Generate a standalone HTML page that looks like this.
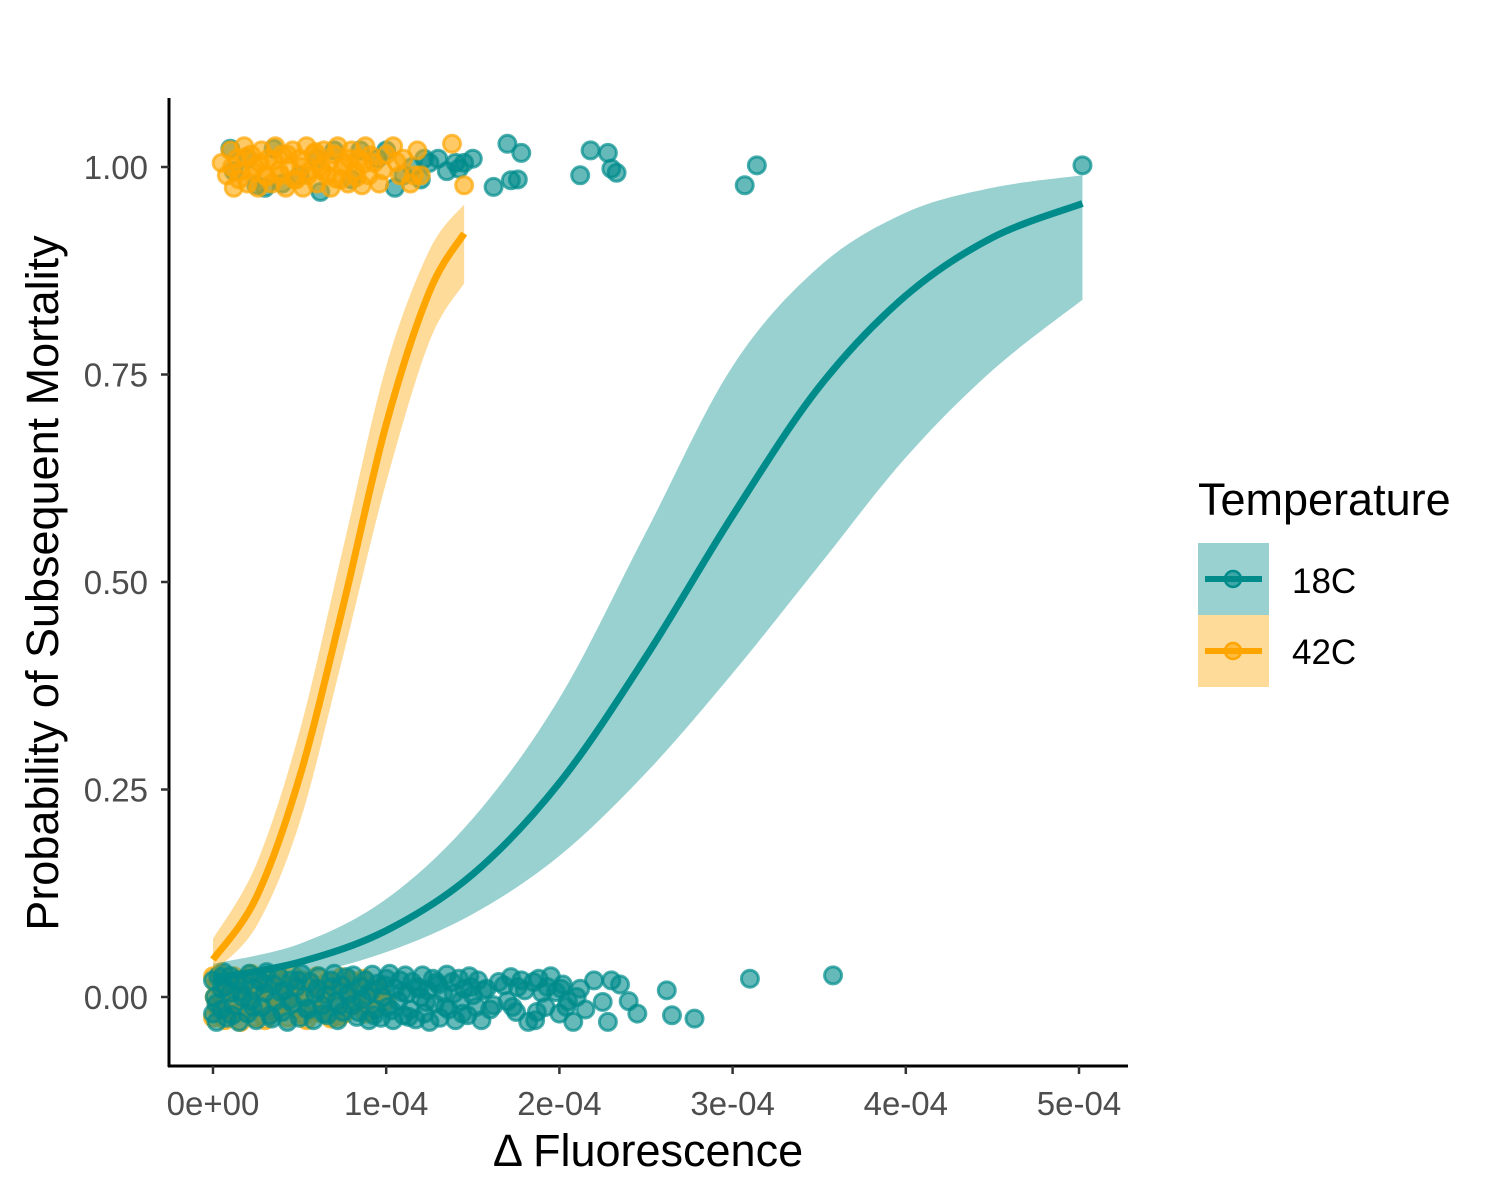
<!DOCTYPE html>
<html><head><meta charset="utf-8"><style>
html,body{margin:0;padding:0;background:#fff}
svg{display:block;font-family:"Liberation Sans",Arial,sans-serif}
</style></head><body>
<svg id="chart" width="1500" height="1200" viewBox="0 0 1500 1200">
<g id="pts-bottom"></g>
<g id="pts-top"></g>
<g id="bands"></g>
<g id="lines"></g>
<g id="axes"></g>
<text x="648" y="1166" font-size="45" text-anchor="middle" fill="#000">Δ Fluorescence</text>
<text transform="translate(58,583) rotate(-90)" font-size="45" text-anchor="middle" fill="#000">Probability of Subsequent Mortality</text>
<g>
<text x="1198" y="515" font-size="45" fill="#000">Temperature</text>
<g>
<rect x="1198" y="543" width="71" height="72" fill="#99d1d1"/>
<line x1="1205" y1="579" x2="1262" y2="579" stroke="#008b8b" stroke-width="6"/>
<circle cx="1233" cy="579" r="8" fill="rgba(0,139,139,0.6)" stroke="#008b8b" stroke-width="2.5"/>
<text x="1292" y="593" font-size="35" fill="#000">18C</text>
</g>
<g>
<rect x="1198" y="615" width="71" height="72" fill="#ffdb99"/>
<line x1="1205" y1="651" x2="1262" y2="651" stroke="#ffa500" stroke-width="6"/>
<circle cx="1233" cy="651" r="8" fill="rgba(255,165,0,0.6)" stroke="#ffa500" stroke-width="2.5"/>
<text x="1292" y="664" font-size="35" fill="#000">42C</text>
</g>
</g>
</svg>
<script>
// x values in units of 1e-4
const xTicks=[0,1,2,3,4,5];
const xTickLabels=["0e+00","1e-04","2e-04","3e-04","4e-04","5e-04"];
const yTicks=[0,0.25,0.5,0.75,1];
const yTickLabels=["0.00","0.25","0.50","0.75","1.00"];

const fitX18=[0,0.5,1,1.5,2,2.5,3,3.5,4,4.5,5.02];
const fit18=[0.022,0.042,0.08,0.148,0.258,0.41,0.58,0.735,0.845,0.915,0.956];
const lo18=[0.012,0.026,0.054,0.1,0.17,0.27,0.39,0.52,0.65,0.755,0.84];
const hi18=[0.04,0.064,0.118,0.215,0.36,0.56,0.76,0.88,0.945,0.975,0.99];

const fitX42=[0,0.25,0.5,0.75,1,1.25,1.45];
const fit42=[0.045,0.12,0.265,0.47,0.69,0.85,0.92];
const lo42=[0.03,0.085,0.21,0.41,0.62,0.79,0.86];
const hi42=[0.07,0.16,0.32,0.54,0.76,0.90,0.955];

// teal points near 0
const t0x=[0,0,0.01,0.02,0.03,0.05,0.05,0.06,0.08,0.1,0.1,0.12,0.14,0.15,0.17,0.18,0.2,0.21,0.22,0.24,0.25,0.27,0.28,0.3,0.31,0.33,0.35,0.36,0.38,0.4,0.41,0.43,0.45,0.46,0.48,0.5,0.51,0.53,0.55,0.56,0.58,0.6,0.61,0.63,0.65,0.66,0.68,0.7,0.71,0.72,0.74,0.75,0.77,0.78,0.8,0.81,0.83,0.85,0.86,0.88,0.9,0.91,0.92,0.94,0.95,0.97,0.98,1,1.01,1.02,1.04,1.05,1.07,1.08,1.1,1.11,1.12,1.14,1.15,1.17,1.18,1.2,1.21,1.22,1.24,1.25,1.27,1.28,1.3,1.31,1.33,1.35,1.36,1.38,1.4,1.42,1.43,1.45,1.47,1.48,1.5,1.52,1.53,1.55,1.58,1.6,1.65,1.7,1.72,1.75,1.76,1.78,1.82,1.85,1.86,1.88,1.9,1.92,1.95,2.0,2.01,2.02,2.05,2.08,2.1,2.15,2.2,2.25,2.28,2.3,2.35,2.4,2.45,2.62,2.65,2.78,3.1,3.58,
0.02,0.07,0.11,0.16,0.23,0.29,0.34,0.39,0.44,0.49,0.54,0.59,0.64,0.69,0.73,0.79,0.84,0.89,0.93,0.99,1.03,1.09,1.13,1.19,1.23,1.29,1.34,1.39,1.44,1.49,1.56,1.62,1.68,1.73,1.8,1.87,1.93,1.98,2.04,2.12];
const t0y=[0.02,-0.02,0.0,-0.03,0.025,0.01,-0.015,0.03,-0.025,0.005,0.025,-0.01,0.02,-0.03,0.0,0.015,-0.02,0.028,-0.005,0.01,-0.028,0.02,-0.012,0.005,0.03,-0.022,0.015,-0.005,0.025,-0.018,0.008,-0.03,0.02,-0.008,0.012,-0.025,0.028,0.0,-0.015,0.018,-0.028,0.01,0.025,-0.01,0.003,-0.022,0.02,0.028,-0.006,-0.028,0.014,-0.018,0.024,0.002,-0.01,0.026,-0.024,0.012,-0.003,0.02,-0.028,0.007,0.027,-0.015,0.016,-0.025,0.0,0.022,-0.012,0.028,-0.028,0.01,-0.005,0.02,-0.022,0.026,0.004,-0.015,0.018,-0.027,0.012,0.0,0.026,-0.02,0.008,-0.03,0.022,-0.008,0.015,-0.025,0.005,0.027,-0.015,0.018,-0.028,0.022,-0.005,0.01,-0.022,0.025,0.002,-0.012,0.02,-0.028,0.01,-0.015,0.018,-0.005,0.024,-0.018,0.012,0.02,-0.03,0.018,-0.028,0.022,0.005,-0.012,0.025,-0.02,0.01,0.015,-0.005,-0.03,0.0,-0.015,0.02,-0.006,-0.03,0.02,0.015,-0.005,-0.02,0.008,-0.022,-0.026,0.022,0.026,
-0.008,0.012,-0.022,0.006,-0.012,0.016,-0.026,0.006,-0.004,0.02,-0.014,0.004,-0.02,0.012,-0.01,0.006,-0.018,0.002,-0.022,0.014,-0.016,0.006,-0.024,0.01,-0.006,0.018,-0.012,0.004,-0.02,0.012,0.008,-0.01,0.014,-0.012,0.008,-0.018,0.012,0.006,-0.012,0.01];
// orange points near 0
const o0x=[0,0,0.01,0.02,0.03,0.04,0.05,0.06,0.07,0.08,0.09,0.1,0.12,0.13,0.15,0.16,0.18,0.19,0.21,0.22,0.24,0.25,0.27,0.29,0.3,0.32,0.34,0.35,0.37,0.39,0.41,0.43,0.44,0.46,0.48,0.5,0.52,0.54,0.56,0.58,0.6,0.62,0.64,0.66,0.68,0.7,0.72,0.74,0.76,0.78,0.8,0.82,0.85,0.88,0.9,0.95,1.0,
0.02,0.06,0.11,0.17,0.2,0.26,0.33,0.38,0.42,0.47,0.53,0.57,0.63,0.67,0.73,0.77,0.83,0.87,0.92,0.97];
const o0y=[0.025,-0.025,0.0,0.015,-0.015,0.028,-0.005,0.01,-0.028,0.02,-0.012,0.005,0.025,-0.02,0.012,-0.03,0.022,0.0,-0.015,0.028,-0.025,0.01,0.02,-0.008,-0.028,0.015,0.004,-0.018,0.026,-0.01,0.018,-0.025,0.008,0.027,-0.015,0.0,0.02,-0.028,0.012,-0.006,0.025,-0.02,0.006,0.018,-0.026,0.01,-0.012,0.024,-0.02,0.003,0.02,-0.01,0.015,-0.02,0.0,0.01,-0.005,
-0.01,0.006,-0.02,0.016,-0.004,0.01,-0.016,0.022,-0.006,0.004,-0.022,0.016,-0.012,0.008,-0.024,0.014,-0.006,0.022,-0.016,0.006];
// teal points near 1
const t1x=[0.1,0.12,0.2,0.25,0.3,0.35,0.4,0.5,0.6,0.62,0.7,0.8,0.85,0.95,1.0,1.05,1.1,1.15,1.2,1.22,1.25,1.3,1.35,1.4,1.42,1.45,1.5,1.62,1.7,1.72,1.76,1.78,2.12,2.18,2.28,2.3,2.33,3.07,3.14,5.02];
const t1y=[1.022,0.995,1.01,0.978,0.975,1.022,0.98,0.99,1.01,0.97,1.02,0.985,1.02,1.01,1.02,0.975,0.99,1.0,0.985,1.01,1.005,1.01,0.995,1.005,0.998,1.005,1.01,0.976,1.028,0.984,0.985,1.017,0.99,1.02,1.017,0.998,0.993,0.978,1.002,1.002];
// orange points near 1
const o1x=[0.05,0.08,0.1,0.12,0.14,0.16,0.18,0.2,0.22,0.24,0.26,0.28,0.3,0.32,0.34,0.36,0.38,0.4,0.42,0.44,0.46,0.48,0.5,0.52,0.54,0.56,0.58,0.6,0.62,0.64,0.66,0.68,0.7,0.72,0.74,0.76,0.78,0.8,0.82,0.84,0.86,0.88,0.9,0.93,0.96,1.0,1.04,1.08,1.1,1.14,1.18,1.2,1.38,1.45,
0.11,0.15,0.19,0.23,0.27,0.31,0.35,0.39,0.43,0.47,0.51,0.55,0.59,0.63,0.67,0.71,0.75,0.79,0.83,0.87,0.91,0.98,1.06,1.16];
const o1y=[1.005,0.99,1.02,0.975,1.01,0.995,1.025,0.98,1.015,1.0,0.975,1.02,0.99,1.01,0.98,1.025,0.995,1.015,0.975,1.0,1.02,0.985,1.01,0.975,1.025,0.995,1.015,0.98,1.0,1.02,0.99,0.975,1.015,1.025,0.985,1.005,0.98,1.02,0.995,1.01,0.978,1.025,0.99,1.005,0.98,1.015,1.025,0.99,1.01,0.98,1.02,0.99,1.028,0.978,
1.0,0.985,1.012,0.995,1.005,0.988,1.008,0.99,1.015,0.985,1.0,0.99,1.018,0.996,1.006,0.986,1.0,1.01,0.988,1.004,1.014,0.996,1.006,0.99];

const NS="http://www.w3.org/2000/svg";
const X0=213, XS=173.2, Y0=997, YS=830;
function sx(v){return X0+v*XS;}
function sy(v){return Y0-v*YS;}
function mk(tag,attrs,parent){const e=document.createElementNS(NS,tag);for(const k in attrs)e.setAttribute(k,attrs[k]);parent.appendChild(e);return e;}
function smoothPath(xs,ys){
  const p=xs.map((x,i)=>[sx(x),sy(ys[i])]);
  let d="M"+p[0][0]+","+p[0][1];
  for(let i=0;i<p.length-1;i++){
    const p0=p[Math.max(0,i-1)],p1=p[i],p2=p[i+1],p3=p[Math.min(p.length-1,i+2)];
    const c1=[p1[0]+(p2[0]-p0[0])/6,p1[1]+(p2[1]-p0[1])/6];
    const c2=[p2[0]-(p3[0]-p1[0])/6,p2[1]-(p3[1]-p1[1])/6];
    d+=" C"+c1[0]+","+c1[1]+" "+c2[0]+","+c2[1]+" "+p2[0]+","+p2[1];
  }
  return d;
}
function bandPath(xs,lo,hi){
  const top=smoothPath(xs,hi);
  const rx=xs.slice().reverse(), rl=lo.slice().reverse();
  const bot=smoothPath(rx,rl).replace(/^M/,"L");
  return top+" "+bot+" Z";
}
function drawPts(g,xs,ys,fill,stroke,name){
  xs.forEach((x,i)=>{
    const c=mk("circle",{cx:sx(x),cy:sy(ys[i]),r:8.5,fill:fill,stroke:stroke,"stroke-width":3,"stroke-opacity":0.7},g);
    
    
  });
}
const gb=document.getElementById("pts-bottom"), gt=document.getElementById("pts-top");
drawPts(gb,o0x,o0y,"rgba(255,165,0,0.6)","#ffa500","point-42c");
drawPts(gb,t0x,t0y,"rgba(0,139,139,0.6)","#008b8b","point-18c");
drawPts(gt,t1x,t1y,"rgba(0,139,139,0.6)","#008b8b","point-18c");
drawPts(gt,o1x,o1y,"rgba(255,165,0,0.6)","#ffa500","point-42c");

const bands=document.getElementById("bands");
const b18=mk("path",{d:bandPath(fitX18,lo18,hi18),fill:"#008b8b","fill-opacity":0.4},bands);


const b42=mk("path",{d:bandPath(fitX42,lo42,hi42),fill:"#ffa500","fill-opacity":0.4},bands);


const lines=document.getElementById("lines");
const l18=mk("path",{d:smoothPath(fitX18,fit18),fill:"none",stroke:"#008b8b","stroke-width":7},lines);


const l42=mk("path",{d:smoothPath(fitX42,fit42),fill:"none",stroke:"#ffa500","stroke-width":7},lines);



const ax=document.getElementById("axes");
const ya=mk("line",{x1:169,y1:98,x2:169,y2:1067,stroke:"#000","stroke-width":3},ax);


const xa=mk("line",{x1:168,y1:1066,x2:1128,y2:1066,stroke:"#000","stroke-width":3},ax);


yTicks.forEach((v,i)=>{
  mk("line",{x1:161,y1:sy(v),x2:169,y2:sy(v),stroke:"#333","stroke-width":2.5},ax);
  const t=mk("text",{x:148,y:sy(v)+12,"font-size":33,"text-anchor":"end",fill:"#4d4d4d"},ax);
  t.textContent=yTickLabels[i];
  
  
});
xTicks.forEach((v,i)=>{
  mk("line",{x1:sx(v),y1:1066,x2:sx(v),y2:1074,stroke:"#333","stroke-width":2.5},ax);
  const t=mk("text",{x:sx(v),y:1115,"font-size":33,"text-anchor":"middle",fill:"#4d4d4d"},ax);
  t.textContent=xTickLabels[i];
  
  
});
</script>
</body></html>
